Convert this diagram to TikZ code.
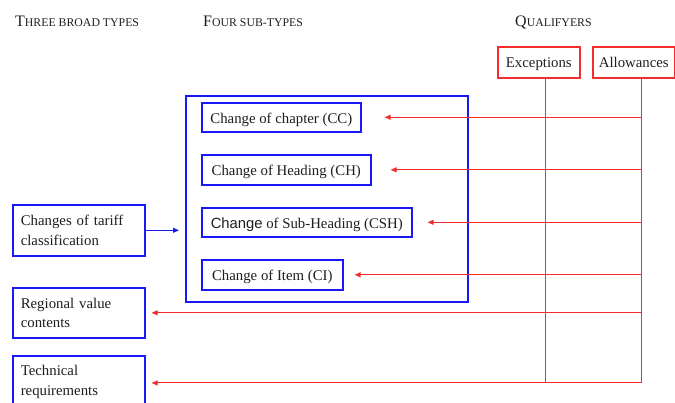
\documentclass[tikz,border=0pt]{standalone}
\usepackage{fontspec}
\setmainfont{Liberation Serif}
\newfontfamily\sansf{Liberation Sans}
\usetikzlibrary{arrows.meta}
\definecolor{bblue}{RGB}{25,25,245}
\definecolor{rred}{RGB}{245,45,45}
\definecolor{txt}{RGB}{30,30,30}
\newcommand{\fakesc}[2]{{\fontsize{16}{18}\selectfont #1}{\fontsize{11.8}{14}\selectfont #2}}
\begin{document}
\begin{tikzpicture}[x=1pt,y=-1pt,
  font=\fontsize{14.8}{19.5}\selectfont, text=txt,
  bbox/.style={draw=bblue, line width=1.6pt, inner xsep=0pt, inner ysep=0pt, anchor=north west},
  sbox/.style={bbox, text height=12pt, text depth=0pt},
  lbox/.style={bbox, inner xsep=8pt, align=left},
  rbox/.style={draw=rred, line width=1.6pt, inner sep=0pt, anchor=north west, text height=11pt, text depth=0pt},
  rline/.style={draw=rred, line width=1pt},
  rarrow/.style={rline, -{Triangle[length=6pt,width=5pt]}},
  barrow/.style={draw=bblue, line width=1pt, -{Triangle[length=6pt,width=5pt]}},
  head/.style={anchor=base west, inner sep=0pt}]
\useasboundingbox (0,0) rectangle (675,403);
\clip (0,0) rectangle (675,403);
\fill[white] (0,0) rectangle (675,403);

% headers
\node[head] (h1) at (15,27) {\fakesc{T}{HREE BROAD TYPES}};
\node[head] (h2) at (203,27) {\fakesc{F}{OUR SUB-TYPES}};
\node[head] (h3) at (515,27) {\fakesc{Q}{UALIFYERS}};

% qualifiers
\node[rbox, minimum width=82pt, minimum height=31pt] (ex) at (497,46) {Exceptions};
\node[rbox, minimum width=82pt, minimum height=31pt] (al) at (592,46) {Allowances};

% group box
\node[bbox, minimum width=282pt, minimum height=206pt] (grp) at (185,95) {};

% sub-types
\node[sbox, minimum width=159pt, minimum height=29pt] (cc) at (201,102) {Change of chapter (CC)};
\node[sbox, minimum width=169pt, minimum height=30pt] (ch) at (201,154) {Change of Heading (CH)};
\node[sbox, minimum width=210pt, minimum height=29pt] (csh) at (201,207) {{\sansf Change} of Sub-Heading (CSH)};
\node[sbox, minimum width=141pt, minimum height=30pt] (ci) at (201,259) {Change of Item (CI)};

% broad types
\node[lbox, text width=116pt, minimum height=51pt] (tcc) at (12,204) {Changes of tariff\\classification};
\node[lbox, text width=116pt, minimum height=50pt] (rvc) at (12,287) {Regional value\\contents};
\node[lbox, text width=116pt, minimum height=52pt] (tr) at (12,355) {Technical\\requirements};

% vertical qualifier lines
\coordinate (exB) at (545,383);
\coordinate (alB) at (641,383);
\draw[rline] (exB |- ex.south) -- (exB);
\draw[rline] (alB |- al.south) -- (alB);

% arrows
\draw[rarrow] (alB |- cc.east) -- ([xshift=23pt]cc.east);
\draw[rarrow] (alB |- ch.east) -- ([xshift=19pt]ch.east);
\draw[rarrow] (alB |- csh.east) -- ([xshift=15pt]csh.east);
\draw[rarrow] (alB |- ci.east) -- ([xshift=11pt]ci.east);
\draw[rarrow] (alB |- rvc.east) -- ([xshift=6pt]rvc.east);
\draw[rarrow] (alB) -- ([xshift=6pt]tr.east |- alB);
\draw[barrow] (tcc.east) -- ([xshift=-6pt]grp.west |- tcc.east);
\end{tikzpicture}
\end{document}
